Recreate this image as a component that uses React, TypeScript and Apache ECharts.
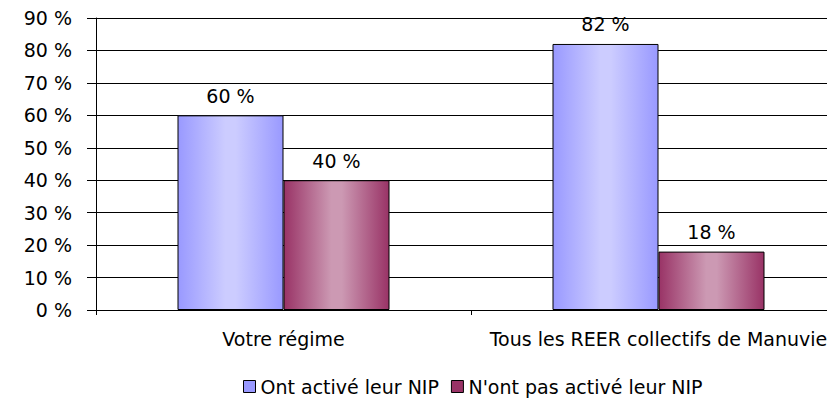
import React, { useEffect, useRef } from "react";
import * as echarts from "echarts";

const categories = ["Votre régime", "Tous les REER collectifs de Manuvie"];
const seriesNames = ["Ont activé leur NIP", "N'ont pas activé leur NIP"];
const activated = [60, 82];
const notActivated = [40, 18];
const yTicks = [0, 10, 20, 30, 40, 50, 60, 70, 80, 90];

const FONT = "DejaVu Sans";

function grad(edge: string, mid: string) {
  return new echarts.graphic.LinearGradient(0, 0, 1, 0, [
    { offset: 0, color: edge },
    { offset: 0.45, color: mid },
    { offset: 0.55, color: mid },
    { offset: 1, color: edge },
  ]);
}

export default function App() {
  const ref = useRef<HTMLDivElement>(null);
  useEffect(() => {
    if (!ref.current) return;
    const chart = echarts.init(ref.current, null, { renderer: "svg" });
    const label = {
      show: true,
      position: "top",
      distance: 10,
      formatter: (p: any) => `${p.value} %`,
      color: "#000",
      fontFamily: FONT,
      fontSize: 19,
    };
    chart.setOption({
      animation: false,
      backgroundColor: "#fff",
      textStyle: { fontFamily: FONT, color: "#000" },
      grid: { left: 96, top: 18, width: 750, height: 292, containLabel: false },
      legend: {
        top: 372,
        left: 238,
        itemWidth: 12,
        itemHeight: 12,
        itemGap: 12,
        icon: "rect",
        textStyle: { fontFamily: FONT, fontSize: 19, color: "#000" },
        data: [
          { name: seriesNames[0], itemStyle: { color: "#9999ff", borderColor: "#000", borderWidth: 1 } },
          { name: seriesNames[1], itemStyle: { color: "#993366", borderColor: "#000", borderWidth: 1 } },
        ],
      },
      xAxis: {
        type: "category",
        data: categories,
        axisLine: { lineStyle: { color: "#000", width: 1 } },
        axisTick: { show: true, inside: false, length: 5, lineStyle: { color: "#000" } },
        axisLabel: { color: "#000", fontFamily: FONT, fontSize: 19, margin: 19, interval: 0 },
      },
      yAxis: {
        type: "value",
        min: 0,
        max: 90,
        interval: 10,
        axisLine: { show: true, lineStyle: { color: "#000", width: 1 } },
        axisTick: { show: true, length: 9, lineStyle: { color: "#000" } },
        axisLabel: {
          color: "#000",
          fontFamily: FONT,
          fontSize: 19,
          margin: 24,
          formatter: (v: number) => (yTicks.includes(v) ? `${v} %` : ""),
        },
        splitLine: { show: true, lineStyle: { color: "#000", width: 1 } },
      },
      series: [
        {
          name: seriesNames[0],
          type: "bar",
          data: activated,
          barWidth: 106,
          barGap: "0%",
          itemStyle: { color: grad("#9999ff", "#ccccff"), borderColor: "#000", borderWidth: 1 },
          label,
        },
        {
          name: seriesNames[1],
          type: "bar",
          data: notActivated,
          barWidth: 106,
          barGap: "0%",
          itemStyle: { color: grad("#993366", "#cc99b3"), borderColor: "#000", borderWidth: 1 },
          label,
        },
      ],
    });
    return () => chart.dispose();
  }, []);
  return (
    <div style={{ width: 835, height: 406, margin: -8, overflow: "hidden" }}>
      <div ref={ref} style={{ width: 860, height: 406 }} />
    </div>
  );
}
